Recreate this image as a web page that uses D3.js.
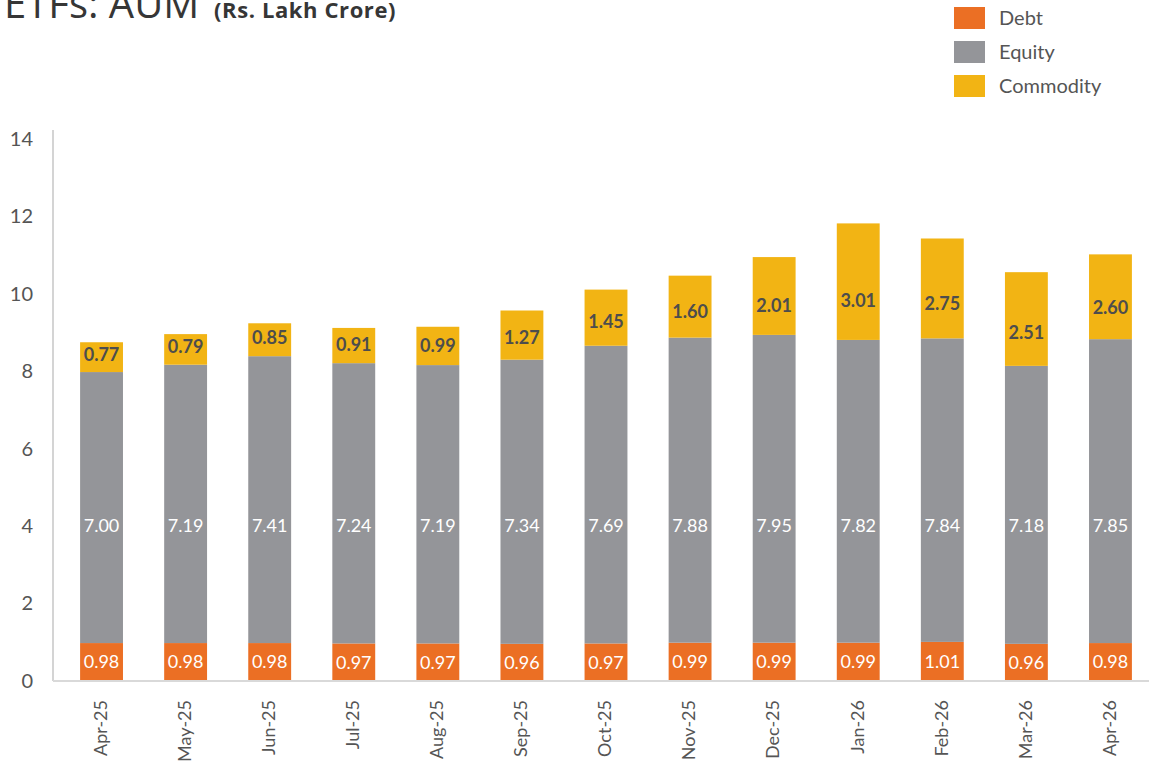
<!DOCTYPE html>
<html>
<head>
<meta charset="utf-8">
<script src="https://cdn.jsdelivr.net/npm/d3@7"></script>
<style>
  html, body { margin: 0; padding: 0; background: #fff; }
  svg { display: block; }
</style>
</head>
<body>
<svg id="chart" width="1149" height="764"></svg>
<script>
const categories = ["Apr-25","May-25","Jun-25","Jul-25","Aug-25","Sep-25","Oct-25","Nov-25","Dec-25","Jan-26","Feb-26","Mar-26","Apr-26"];
const debt      = [0.98,0.98,0.98,0.97,0.97,0.96,0.97,0.99,0.99,0.99,1.01,0.96,0.98];
const equity    = [7.00,7.19,7.41,7.24,7.19,7.34,7.69,7.88,7.95,7.82,7.84,7.18,7.85];
// commodity segment heights as drawn in the picture
const commodity = [0.77,0.79,0.85,0.91,0.99,1.27,1.45,1.60,2.01,3.01,2.58,2.42,2.19];
// commodity values as printed on the bars
const commodityLabels = ["0.77","0.79","0.85","0.91","0.99","1.27","1.45","1.60","2.01","3.01","2.75","2.51","2.60"];
const seriesNames = ["Debt","Equity","Commodity"];
const yTicks = [0,2,4,6,8,10,12,14];

const colors = { Debt: "#EB6F24", Equity: "#949599", Commodity: "#F2B414" };

const svg = d3.select("#chart");
const font = "Lato, 'Open Sans', sans-serif";

const rows = categories.map((c, i) => ({ cat: c, idx: i, Debt: debt[i], Equity: equity[i], Commodity: commodity[i] }));
const stack = d3.stack().keys(seriesNames)(rows);

const x = d3.scaleBand().domain(categories).range([59.5, 1152.5]).paddingInner(0.49).paddingOuter(0.245);
const y = d3.scaleLinear().domain([0, 14]).range([681, 139]);

// Title
svg.append("text").attr("x", 4).attr("y", 18).attr("fill", "#363636")
  .style("font-family", "'Open Sans', sans-serif").style("font-size", "40px")
  .text("ETFs: AUM");
svg.append("text").attr("x", 214).attr("y", 18).attr("fill", "#363636")
  .style("font-family", "'Open Sans', sans-serif").style("font-size", "22px").style("font-weight", "bold")
  .style("letter-spacing", "0.6px")
  .text("(Rs. Lakh Crore)");

// Legend
const legend = svg.append("g");
seriesNames.forEach((s, i) => {
  const g = legend.append("g").attr("transform", `translate(954, ${7 + i * 34})`);
  g.append("rect").attr("width", 31).attr("height", 22).attr("fill", colors[s]);
  g.append("text").attr("x", 45).attr("y", 11).attr("dy", "0.35em")
    .attr("fill", "#555").style("font-family", font).style("font-size", "20px").text(s);
});

// Y axis
const yAxis = svg.append("g").attr("transform", "translate(53,0)")
  .call(d3.axisLeft(y).tickValues(yTicks).tickSize(0).tickPadding(20));
yAxis.select(".domain").remove();
yAxis.selectAll("text").attr("fill", "#555").style("font-family", font).style("font-size", "20px");
svg.append("line").attr("x1", 53).attr("x2", 53).attr("y1", 130).attr("y2", y(0))
  .attr("stroke", "#d4d4d4").attr("stroke-width", 2);

// Bars
const layers = svg.append("g").selectAll("g").data(stack).join("g")
  .attr("fill", d => colors[d.key]);
layers.selectAll("rect").data(d => d).join("rect")
  .attr("x", d => x(d.data.cat))
  .attr("width", x.bandwidth())
  .attr("y", d => y(d[1]))
  .attr("height", d => y(d[0]) - y(d[1]));

// X axis
svg.append("line").attr("x1", 53).attr("x2", 1149).attr("y1", y(0)).attr("y2", y(0))
  .attr("stroke", "#d9d9d9").attr("stroke-width", 2);
const xAxis = svg.append("g").attr("transform", `translate(0, ${y(0)})`)
  .call(d3.axisBottom(x).tickSize(0).tickPadding(0));
xAxis.select(".domain").remove();
xAxis.selectAll("text")
  .attr("transform", "rotate(-90)")
  .attr("x", -19).attr("y", -1).attr("dy", "0.35em")
  .style("text-anchor", "end")
  .attr("fill", "#555").style("font-family", font).style("font-size", "18px");

// Labels
const labels = svg.append("g").style("font-family", font).style("font-size", "18px").attr("text-anchor", "middle");
stack.forEach(layer => {
  labels.selectAll(null).data(layer).join("text")
    .attr("x", d => x(d.data.cat) + x.bandwidth() / 2)
    .attr("y", d => {
      if (layer.key === "Debt") return y((d[0] + d[1]) / 2);
      if (layer.key === "Equity") return y(4);
      const h = y(d[0]) - y(d[1]);
      return y(d[0]) - (10 + 0.25 * h);
    })
    .attr("dy", "0.35em")
    .attr("fill", layer.key === "Commodity" ? "#4d4d4d" : "#fff")
    .style("font-weight", layer.key === "Commodity" ? "bold" : "normal")
    .text(d => layer.key === "Commodity" ? commodityLabels[d.data.idx] : (d[1] - d[0]).toFixed(2));
});
</script>
</body>
</html>
